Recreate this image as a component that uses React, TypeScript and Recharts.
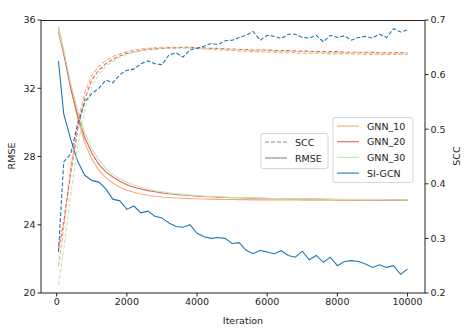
import React from "react";
import { LineChart, Line, XAxis, YAxis } from "recharts";

const ITERS = [
  50, 200, 400, 600, 800, 1000, 1200, 1400, 1600, 1800, 2000, 2200, 2400, 2600, 2800, 3000, 3200, 3400, 3600, 3800,
  4000, 4200, 4400, 4600, 4800, 5000, 5200, 5400, 5600, 5800, 6000, 6200, 6400, 6600, 6800, 7000, 7200, 7400, 7600,
  7800, 8000, 8200, 8400, 8600, 8800, 9000, 9200, 9400, 9600, 9800, 10000,
];

// RMSE (left axis)
const GNN10_RMSE = [
  35.6, 34.2, 32.0, 30.2, 28.8, 27.85, 27.2, 26.75, 26.45, 26.2, 26.02, 25.9, 25.8, 25.73, 25.67, 25.63, 25.6, 25.57,
  25.55, 25.53, 25.52, 25.51, 25.5, 25.49, 25.48, 25.48, 25.47, 25.47, 25.46, 25.46, 25.46, 25.45, 25.45, 25.45, 25.45,
  25.44, 25.44, 25.44, 25.44, 25.44, 25.43, 25.43, 25.43, 25.43, 25.43, 25.43, 25.42, 25.42, 25.42, 25.42, 25.42,
];
const GNN20_RMSE = [
  35.3, 34.0, 32.0, 30.4, 29.1, 28.2, 27.55, 27.1, 26.8, 26.55, 26.35, 26.2, 26.1, 26.0, 25.93, 25.87, 25.82, 25.78,
  25.74, 25.71, 25.68, 25.66, 25.64, 25.62, 25.6, 25.59, 25.58, 25.57, 25.56, 25.55, 25.54, 25.53, 25.53, 25.52, 25.51,
  25.51, 25.5, 25.5, 25.49, 25.49, 25.48, 25.48, 25.48, 25.47, 25.47, 25.47, 25.46, 25.46, 25.46, 25.46, 25.45,
];
const GNN30_RMSE = [
  35.4, 34.2, 32.3, 30.7, 29.4, 28.45, 27.8, 27.3, 26.95, 26.7, 26.5, 26.33, 26.2, 26.1, 26.0, 25.93, 25.87, 25.82,
  25.78, 25.74, 25.71, 25.68, 25.66, 25.64, 25.62, 25.6, 25.59, 25.58, 25.57, 25.56, 25.55, 25.54, 25.53, 25.52, 25.52,
  25.51, 25.51, 25.5, 25.5, 25.49, 25.49, 25.48, 25.48, 25.48, 25.47, 25.47, 25.47, 25.46, 25.46, 25.46, 25.46,
];
const SIGCN_RMSE = [
  33.6, 30.5, 29.0, 27.7, 26.9, 26.6, 26.5, 26.1, 25.5, 25.4, 24.9, 25.1, 24.7, 24.8, 24.5, 24.4, 24.1, 23.9, 23.85,
  24.0, 23.5, 23.3, 23.2, 23.25, 23.2, 22.9, 22.95, 22.5, 22.3, 22.5, 22.4, 22.3, 22.48, 22.2, 22.1, 22.45, 21.95, 22.2,
  21.8, 22.1, 21.6, 21.85, 21.9, 21.85, 21.7, 21.5, 21.65, 21.5, 21.6, 21.1, 21.4,
];

// SCC (right axis)
const GNN10_SCC = [
  0.25, 0.32, 0.43, 0.515, 0.567, 0.598, 0.615, 0.626, 0.633, 0.638, 0.642, 0.645, 0.647, 0.648, 0.649, 0.65, 0.65,
  0.65, 0.649, 0.649, 0.648, 0.647, 0.646, 0.645, 0.645, 0.644, 0.643, 0.643, 0.642, 0.642, 0.641, 0.641, 0.64, 0.64,
  0.64, 0.639, 0.639, 0.639, 0.639, 0.638, 0.638, 0.638, 0.638, 0.638, 0.637, 0.637, 0.637, 0.637, 0.637, 0.637, 0.637,
];
const GNN20_SCC = [
  0.28, 0.33, 0.42, 0.5, 0.555, 0.59, 0.608, 0.62, 0.628, 0.634, 0.639, 0.642, 0.644, 0.646, 0.647, 0.648, 0.649, 0.649,
  0.65, 0.65, 0.649, 0.649, 0.648, 0.648, 0.647, 0.647, 0.646, 0.646, 0.645, 0.645, 0.645, 0.644, 0.644, 0.644, 0.643,
  0.643, 0.643, 0.642, 0.642, 0.642, 0.642, 0.641, 0.641, 0.641, 0.641, 0.641, 0.64, 0.64, 0.64, 0.64, 0.64,
];
const GNN30_SCC = [
  0.215, 0.28, 0.38, 0.47, 0.535, 0.577, 0.6, 0.615, 0.625, 0.632, 0.637, 0.641, 0.644, 0.646, 0.647, 0.648, 0.649,
  0.649, 0.649, 0.649, 0.648, 0.648, 0.647, 0.647, 0.646, 0.646, 0.645, 0.645, 0.644, 0.644, 0.643, 0.643, 0.643, 0.642,
  0.642, 0.642, 0.641, 0.641, 0.641, 0.641, 0.64, 0.64, 0.64, 0.64, 0.639, 0.639, 0.639, 0.639, 0.639, 0.638, 0.638,
];
const SIGCN_SCC = [
  0.275, 0.44, 0.455, 0.51, 0.55, 0.565, 0.575, 0.59, 0.585, 0.6, 0.608, 0.61, 0.62, 0.625, 0.62, 0.618, 0.636, 0.64,
  0.632, 0.645, 0.648, 0.652, 0.657, 0.655, 0.662, 0.663, 0.668, 0.672, 0.679, 0.663, 0.672, 0.67, 0.666, 0.674, 0.674,
  0.668, 0.667, 0.672, 0.66, 0.672, 0.668, 0.671, 0.663, 0.668, 0.67, 0.667, 0.674, 0.668, 0.684, 0.678, 0.682,
];

const X_TICKS = [0, 2000, 4000, 6000, 8000, 10000];
const RMSE_TICKS = [20, 24, 28, 32, 36];
const SCC_TICKS = [0.2, 0.3, 0.4, 0.5, 0.6, 0.7];

const SERIES = [
  { name: "GNN_10", rmse: "gnn10Rmse", scc: "gnn10Scc", color: "#f9ab74" },
  { name: "GNN_20", rmse: "gnn20Rmse", scc: "gnn20Scc", color: "#e5625b" },
  { name: "GNN_30", rmse: "gnn30Rmse", scc: "gnn30Scc", color: "#bfe6b6" },
  { name: "SI-GCN", rmse: "sigcnRmse", scc: "sigcnScc", color: "#1f77b4" },
];

const data = ITERS.map((iter, i) => ({
  iter,
  gnn10Rmse: GNN10_RMSE[i],
  gnn20Rmse: GNN20_RMSE[i],
  gnn30Rmse: GNN30_RMSE[i],
  sigcnRmse: SIGCN_RMSE[i],
  gnn10Scc: GNN10_SCC[i],
  gnn20Scc: GNN20_SCC[i],
  gnn30Scc: GNN30_SCC[i],
  sigcnScc: SIGCN_SCC[i],
}));

const FONT = "DejaVu Sans";
const TICK = { fontSize: 9.5, fill: "#222", fontFamily: FONT };
const X_DOMAIN = [-447.5, 10497.5];

export default function App() {
  return (
    <div style={{ position: "absolute", left: 0, top: 0, width: 467, height: 332, background: "#fff" }}>
      <LineChart width={467} height={332} data={data} margin={{ top: 20, right: 0, bottom: 0, left: 0 }}>
        <XAxis
          dataKey="iter"
          type="number"
          domain={X_DOMAIN}
          allowDataOverflow
          ticks={X_TICKS}
          height={39}
          tick={TICK}
          tickSize={3.5}
          tickMargin={2}
          stroke="#222"
        />
        <YAxis
          yAxisId="left"
          domain={[20, 36]}
          allowDataOverflow
          ticks={RMSE_TICKS}
          width={41}
          tick={TICK}
          tickSize={3.5}
          tickMargin={2}
          stroke="#222"
        />
        <YAxis
          yAxisId="right"
          orientation="right"
          domain={[0.2, 0.7]}
          allowDataOverflow
          ticks={SCC_TICKS}
          width={42}
          tick={TICK}
          tickSize={3.5}
          tickMargin={2}
          tickFormatter={(v) => v.toFixed(1)}
          stroke="#222"
        />
        {SERIES.map((s) => (
          <Line key={s.rmse} yAxisId="left" dataKey={s.rmse} stroke={s.color} strokeWidth={1.1} dot={false} isAnimationActive={false} />
        ))}
        {SERIES.map((s) => (
          <Line
            key={s.scc}
            yAxisId="right"
            dataKey={s.scc}
            stroke={s.color}
            strokeWidth={1.1}
            strokeDasharray="4 2"
            dot={false}
            isAnimationActive={false}
          />
        ))}
      </LineChart>

      {/* top spine, axis titles and legends, matplotlib style */}
      <svg width={467} height={332} style={{ position: "absolute", left: 0, top: 0, pointerEvents: "none" }} fontFamily={FONT} fontSize={9.5} fill="#222">
        <line x1={41} x2={425} y1={20.5} y2={20.5} stroke="#222" strokeWidth={1} />
        <text x={243} y={324} textAnchor="middle">Iteration</text>
        <text x={15} y={156} textAnchor="middle" transform="rotate(-90 15 156)">RMSE</text>
        <text x={460} y={156} textAnchor="middle" transform="rotate(-90 460 156)">SCC</text>

        <rect x={261} y={133.5} width={67} height={35} rx={2} fill="#fff" fillOpacity={0.8} stroke="#ccc" strokeWidth={0.8} />
        <line x1={265} x2={287} y1={142} y2={142} stroke="#888" strokeWidth={1.1} strokeDasharray="4 2" />
        <text x={295} y={145.5}>SCC</text>
        <line x1={265} x2={287} y1={158} y2={158} stroke="#888" strokeWidth={1.1} />
        <text x={295} y={161.5}>RMSE</text>

        <rect x={333} y={117.5} width={80} height={65} rx={2} fill="#fff" fillOpacity={0.8} stroke="#ccc" strokeWidth={0.8} />
        {SERIES.map((s, i) => (
          <g key={s.name}>
            <line x1={337} x2={359} y1={126 + i * 15.7} y2={126 + i * 15.7} stroke={s.color} strokeWidth={1.1} />
            <text x={367} y={129.5 + i * 15.7}>{s.name}</text>
          </g>
        ))}
      </svg>
    </div>
  );
}
